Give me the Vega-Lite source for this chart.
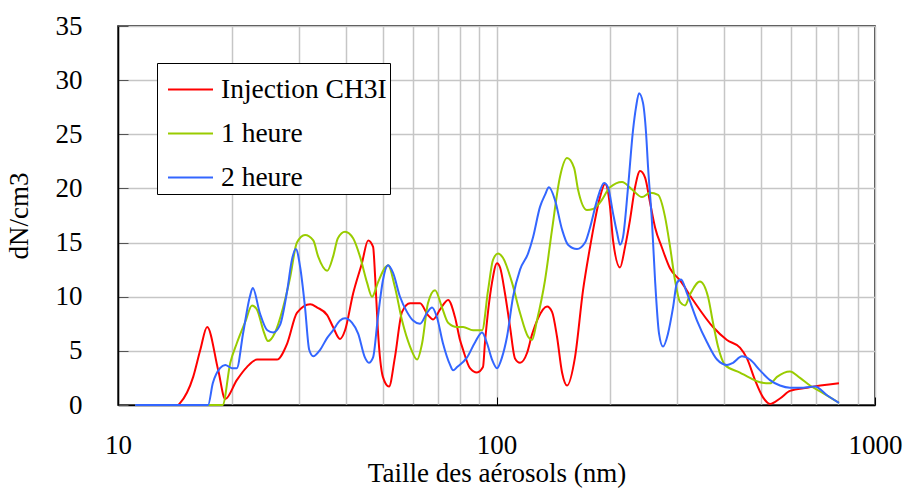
{
 "$schema": "https://vega.github.io/schema/vega-lite/v6.json",
 "width": 757, "height": 379,
 "autosize": {"type": "none"},
 "padding": {"left": 118, "top": 26, "right": 32, "bottom": 97},
 "background": "white",
 "config": {"font": "'Liberation Serif', 'Times New Roman', serif", "view": {"stroke": "black", "strokeWidth": 1.5}},
 "data": {"values": [
  {"s":"Injection CH3I","x":11.1,"y":0},{"s":"Injection CH3I","x":14.4,"y":0},{"s":"Injection CH3I","x":14.6,"y":0.2},{"s":"Injection CH3I","x":15.8,"y":2.6},{"s":"Injection CH3I","x":16.5,"y":5.1},{"s":"Injection CH3I","x":17.2,"y":7.2},{"s":"Injection CH3I","x":18.4,"y":3.2},{"s":"Injection CH3I","x":19.2,"y":0.55},{"s":"Injection CH3I","x":20.6,"y":2.3},{"s":"Injection CH3I","x":21.9,"y":3.5},{"s":"Injection CH3I","x":23.3,"y":4.2},{"s":"Injection CH3I","x":26.3,"y":4.2},{"s":"Injection CH3I","x":28.0,"y":5.7},{"s":"Injection CH3I","x":29.7,"y":8.5},{"s":"Injection CH3I","x":32.2,"y":9.3},{"s":"Injection CH3I","x":33.6,"y":9.0},{"s":"Injection CH3I","x":35.7,"y":8.3},{"s":"Injection CH3I","x":37.0,"y":7.2},{"s":"Injection CH3I","x":38.6,"y":6.1},{"s":"Injection CH3I","x":39.8,"y":6.9},{"s":"Injection CH3I","x":41.8,"y":10.3},{"s":"Injection CH3I","x":44.1,"y":13.1},{"s":"Injection CH3I","x":45.8,"y":15.2},{"s":"Injection CH3I","x":47.2,"y":14.6},{"s":"Injection CH3I","x":47.8,"y":11.8},{"s":"Injection CH3I","x":48.6,"y":6.9},{"s":"Injection CH3I","x":50.1,"y":2.6},{"s":"Injection CH3I","x":52.0,"y":1.7},{"s":"Injection CH3I","x":53.9,"y":4.4},{"s":"Injection CH3I","x":56.3,"y":8.6},{"s":"Injection CH3I","x":59.1,"y":9.4},{"s":"Injection CH3I","x":62.8,"y":9.4},{"s":"Injection CH3I","x":65.9,"y":8.3},{"s":"Injection CH3I","x":68.0,"y":7.9},{"s":"Injection CH3I","x":70.9,"y":8.8},{"s":"Injection CH3I","x":74.5,"y":9.7},{"s":"Injection CH3I","x":77.7,"y":8.1},{"s":"Injection CH3I","x":80.1,"y":6.0},{"s":"Injection CH3I","x":81.6,"y":5.1},{"s":"Injection CH3I","x":85.1,"y":3.4},{"s":"Injection CH3I","x":88.8,"y":3.0},{"s":"Injection CH3I","x":92.1,"y":3.5},{"s":"Injection CH3I","x":93.2,"y":5.7},{"s":"Injection CH3I","x":97.3,"y":11.3},{"s":"Injection CH3I","x":100.3,"y":13.1},{"s":"Injection CH3I","x":102.2,"y":12.7},{"s":"Injection CH3I","x":105.3,"y":10.3},{"s":"Injection CH3I","x":108.6,"y":7.2},{"s":"Injection CH3I","x":111.9,"y":4.3},{"s":"Injection CH3I","x":115.4,"y":3.9},{"s":"Injection CH3I","x":120.4,"y":4.8},{"s":"Injection CH3I","x":124.1,"y":6.5},{"s":"Injection CH3I","x":128.7,"y":8.0},{"s":"Injection CH3I","x":136.0,"y":9.1},{"s":"Injection CH3I","x":140.2,"y":8.6},{"s":"Injection CH3I","x":144.5,"y":6.3},{"s":"Injection CH3I","x":149.0,"y":3.0},{"s":"Injection CH3I","x":153.6,"y":1.8},{"s":"Injection CH3I","x":161.2,"y":4.4},{"s":"Injection CH3I","x":169.3,"y":10.6},{"s":"Injection CH3I","x":176.7,"y":14.6},{"s":"Injection CH3I","x":182.1,"y":17.1},{"s":"Injection CH3I","x":187.7,"y":19.2},{"s":"Injection CH3I","x":193.5,"y":20.4},{"s":"Injection CH3I","x":199.5,"y":18.3},{"s":"Injection CH3I","x":203.2,"y":15.2},{"s":"Injection CH3I","x":212.0,"y":12.7},{"s":"Injection CH3I","x":218.6,"y":14.6},{"s":"Injection CH3I","x":225.3,"y":17.1},{"s":"Injection CH3I","x":232.3,"y":20.1},{"s":"Injection CH3I","x":239.5,"y":21.6},{"s":"Injection CH3I","x":246.9,"y":21.0},{"s":"Injection CH3I","x":254.5,"y":18.7},{"s":"Injection CH3I","x":262.4,"y":16.4},{"s":"Injection CH3I","x":273.8,"y":14.5},{"s":"Injection CH3I","x":287.5,"y":12.6},{"s":"Injection CH3I","x":305.5,"y":11.5},{"s":"Injection CH3I","x":330.5,"y":9.7},{"s":"Injection CH3I","x":373.3,"y":7.2},{"s":"Injection CH3I","x":406.3,"y":6.0},{"s":"Injection CH3I","x":439.8,"y":5.3},{"s":"Injection CH3I","x":459.0,"y":4.3},{"s":"Injection CH3I","x":481.9,"y":2.3},{"s":"Injection CH3I","x":506.0,"y":0.7},{"s":"Injection CH3I","x":528.0,"y":0.1},{"s":"Injection CH3I","x":561.0,"y":0.6},{"s":"Injection CH3I","x":596.2,"y":1.3},{"s":"Injection CH3I","x":661.3,"y":1.6},{"s":"Injection CH3I","x":803.3,"y":2.0},
  {"s":"1 heure","x":11.1,"y":0},{"s":"1 heure","x":18.9,"y":0},{"s":"1 heure","x":19.8,"y":3.9},{"s":"1 heure","x":20.6,"y":5.7},{"s":"1 heure","x":21.7,"y":7.7},{"s":"1 heure","x":22.6,"y":9.2},{"s":"1 heure","x":23.3,"y":8.8},{"s":"1 heure","x":24.2,"y":6.9},{"s":"1 heure","x":24.9,"y":5.9},{"s":"1 heure","x":26.0,"y":6.7},{"s":"1 heure","x":27.3,"y":9.0},{"s":"1 heure","x":28.5,"y":11.8},{"s":"1 heure","x":29.7,"y":15.0},{"s":"1 heure","x":31.2,"y":15.7},{"s":"1 heure","x":32.8,"y":15.2},{"s":"1 heure","x":33.8,"y":13.7},{"s":"1 heure","x":35.7,"y":12.4},{"s":"1 heure","x":37.0,"y":13.7},{"s":"1 heure","x":38.1,"y":15.4},{"s":"1 heure","x":39.8,"y":16.0},{"s":"1 heure","x":41.8,"y":15.4},{"s":"1 heure","x":43.6,"y":13.7},{"s":"1 heure","x":45.5,"y":11.3},{"s":"1 heure","x":46.9,"y":10.0},{"s":"1 heure","x":48.6,"y":11.3},{"s":"1 heure","x":50.8,"y":12.7},{"s":"1 heure","x":51.7,"y":12.9},{"s":"1 heure","x":53.9,"y":10.9},{"s":"1 heure","x":56.3,"y":7.8},{"s":"1 heure","x":59.1,"y":5.4},{"s":"1 heure","x":61.7,"y":4.2},{"s":"1 heure","x":63.6,"y":5.7},{"s":"1 heure","x":65.9,"y":9.4},{"s":"1 heure","x":68.8,"y":10.6},{"s":"1 heure","x":71.8,"y":9.0},{"s":"1 heure","x":74.5,"y":7.6},{"s":"1 heure","x":78.7,"y":7.2},{"s":"1 heure","x":81.6,"y":7.2},{"s":"1 heure","x":86.7,"y":6.9},{"s":"1 heure","x":91.6,"y":6.9},{"s":"1 heure","x":95.0,"y":10.6},{"s":"1 heure","x":97.9,"y":13.4},{"s":"1 heure","x":100.9,"y":14.0},{"s":"1 heure","x":104.0,"y":13.6},{"s":"1 heure","x":109.9,"y":11.3},{"s":"1 heure","x":115.4,"y":8.5},{"s":"1 heure","x":121.2,"y":6.3},{"s":"1 heure","x":124.1,"y":6.0},{"s":"1 heure","x":127.9,"y":7.8},{"s":"1 heure","x":134.3,"y":11.5},{"s":"1 heure","x":140.2,"y":16.2},{"s":"1 heure","x":147.2,"y":21.1},{"s":"1 heure","x":153.6,"y":22.8},{"s":"1 heure","x":160.3,"y":21.9},{"s":"1 heure","x":164.2,"y":19.9},{"s":"1 heure","x":173.4,"y":18.0},{"s":"1 heure","x":179.9,"y":18.1},{"s":"1 heure","x":187.7,"y":18.7},{"s":"1 heure","x":199.5,"y":20.1},{"s":"1 heure","x":214.6,"y":20.6},{"s":"1 heure","x":228.1,"y":19.9},{"s":"1 heure","x":242.4,"y":19.2},{"s":"1 heure","x":254.5,"y":19.6},{"s":"1 heure","x":267.2,"y":19.4},{"s":"1 heure","x":278.7,"y":17.4},{"s":"1 heure","x":287.5,"y":14.6},{"s":"1 heure","x":296.3,"y":11.5},{"s":"1 heure","x":305.5,"y":9.5},{"s":"1 heure","x":314.8,"y":9.2},{"s":"1 heure","x":324.5,"y":10.2},{"s":"1 heure","x":344.8,"y":11.4},{"s":"1 heure","x":362.1,"y":10.0},{"s":"1 heure","x":373.3,"y":7.6},{"s":"1 heure","x":384.8,"y":5.4},{"s":"1 heure","x":401.5,"y":3.7},{"s":"1 heure","x":439.8,"y":3.0},{"s":"1 heure","x":467.5,"y":2.5},{"s":"1 heure","x":496.8,"y":2.1},{"s":"1 heure","x":528.0,"y":2.0},{"s":"1 heure","x":550.9,"y":2.6},{"s":"1 heure","x":596.2,"y":3.1},{"s":"1 heure","x":633.7,"y":2.5},{"s":"1 heure","x":673.4,"y":1.8},{"s":"1 heure","x":728.8,"y":1.1},{"s":"1 heure","x":803.3,"y":0.2},
  {"s":"2 heure","x":11.1,"y":0},{"s":"2 heure","x":17.3,"y":0},{"s":"2 heure","x":17.8,"y":2.0},{"s":"2 heure","x":18.6,"y":3.4},{"s":"2 heure","x":19.2,"y":3.7},{"s":"2 heure","x":20.0,"y":3.4},{"s":"2 heure","x":20.6,"y":3.4},{"s":"2 heure","x":21.4,"y":6.6},{"s":"2 heure","x":22.3,"y":10.0},{"s":"2 heure","x":22.7,"y":10.8},{"s":"2 heure","x":23.7,"y":8.5},{"s":"2 heure","x":24.8,"y":6.9},{"s":"2 heure","x":25.7,"y":6.7},{"s":"2 heure","x":26.8,"y":7.4},{"s":"2 heure","x":28.0,"y":10.6},{"s":"2 heure","x":28.8,"y":13.4},{"s":"2 heure","x":29.5,"y":14.4},{"s":"2 heure","x":30.3,"y":12.7},{"s":"2 heure","x":31.2,"y":9.0},{"s":"2 heure","x":32.0,"y":5.1},{"s":"2 heure","x":32.8,"y":4.5},{"s":"2 heure","x":34.2,"y":5.1},{"s":"2 heure","x":35.7,"y":6.2},{"s":"2 heure","x":37.0,"y":6.9},{"s":"2 heure","x":38.6,"y":7.8},{"s":"2 heure","x":39.8,"y":8.0},{"s":"2 heure","x":41.5,"y":7.6},{"s":"2 heure","x":43.1,"y":6.6},{"s":"2 heure","x":44.9,"y":4.4},{"s":"2 heure","x":46.0,"y":3.9},{"s":"2 heure","x":47.2,"y":4.4},{"s":"2 heure","x":48.6,"y":8.1},{"s":"2 heure","x":50.1,"y":11.5},{"s":"2 heure","x":51.7,"y":12.9},{"s":"2 heure","x":53.3,"y":12.2},{"s":"2 heure","x":55.6,"y":10.0},{"s":"2 heure","x":58.0,"y":8.6},{"s":"2 heure","x":60.2,"y":7.8},{"s":"2 heure","x":62.8,"y":7.5},{"s":"2 heure","x":65.5,"y":8.5},{"s":"2 heure","x":67.6,"y":9.0},{"s":"2 heure","x":69.6,"y":8.1},{"s":"2 heure","x":72.2,"y":5.7},{"s":"2 heure","x":75.4,"y":3.7},{"s":"2 heure","x":76.8,"y":3.2},{"s":"2 heure","x":78.7,"y":3.5},{"s":"2 heure","x":83.6,"y":4.4},{"s":"2 heure","x":87.8,"y":5.8},{"s":"2 heure","x":91.6,"y":6.7},{"s":"2 heure","x":94.4,"y":5.7},{"s":"2 heure","x":97.3,"y":4.2},{"s":"2 heure","x":100.3,"y":3.4},{"s":"2 heure","x":103.4,"y":4.4},{"s":"2 heure","x":106.6,"y":6.3},{"s":"2 heure","x":110.6,"y":10.0},{"s":"2 heure","x":115.4,"y":12.5},{"s":"2 heure","x":121.2,"y":14.0},{"s":"2 heure","x":124.9,"y":15.5},{"s":"2 heure","x":130.3,"y":18.3},{"s":"2 heure","x":134.3,"y":19.4},{"s":"2 heure","x":137.6,"y":20.1},{"s":"2 heure","x":142.8,"y":18.9},{"s":"2 heure","x":149.0,"y":16.2},{"s":"2 heure","x":154.5,"y":14.8},{"s":"2 heure","x":163.2,"y":14.4},{"s":"2 heure","x":171.4,"y":15.0},{"s":"2 heure","x":176.7,"y":16.4},{"s":"2 heure","x":184.3,"y":18.9},{"s":"2 heure","x":192.4,"y":20.5},{"s":"2 heure","x":197.1,"y":20.1},{"s":"2 heure","x":203.2,"y":17.7},{"s":"2 heure","x":208.2,"y":15.9},{"s":"2 heure","x":212.0,"y":14.8},{"s":"2 heure","x":215.9,"y":15.5},{"s":"2 heure","x":222.6,"y":20.1},{"s":"2 heure","x":229.5,"y":25.4},{"s":"2 heure","x":233.7,"y":27.5},{"s":"2 heure","x":238.0,"y":28.8},{"s":"2 heure","x":243.8,"y":27.9},{"s":"2 heure","x":248.4,"y":25.1},{"s":"2 heure","x":251.4,"y":22.0},{"s":"2 heure","x":257.6,"y":16.8},{"s":"2 heure","x":262.4,"y":11.5},{"s":"2 heure","x":268.8,"y":6.6},{"s":"2 heure","x":275.4,"y":5.4},{"s":"2 heure","x":283.9,"y":6.6},{"s":"2 heure","x":292.7,"y":9.0},{"s":"2 heure","x":299.9,"y":11.3},{"s":"2 heure","x":307.3,"y":11.6},{"s":"2 heure","x":318.7,"y":10.3},{"s":"2 heure","x":338.6,"y":7.8},{"s":"2 heure","x":359.9,"y":5.8},{"s":"2 heure","x":382.5,"y":4.2},{"s":"2 heure","x":406.3,"y":3.7},{"s":"2 heure","x":421.5,"y":3.9},{"s":"2 heure","x":445.2,"y":4.5},{"s":"2 heure","x":467.5,"y":4.2},{"s":"2 heure","x":496.8,"y":3.2},{"s":"2 heure","x":528.0,"y":2.3},{"s":"2 heure","x":561.0,"y":1.8},{"s":"2 heure","x":596.2,"y":1.6},{"s":"2 heure","x":633.7,"y":1.6},{"s":"2 heure","x":694.2,"y":1.7},{"s":"2 heure","x":746.8,"y":0.9},{"s":"2 heure","x":803.3,"y":0.2}
 ]},
 "mark": {"type": "line", "strokeWidth": 2, "interpolate": "monotone"},
 "encoding": {
  "x": {"field": "x", "type": "quantitative",
   "scale": {"type": "log", "domain": [10, 1000], "nice": false},
   "axis": {"title": "Taille des aérosols (nm)", "values": [10,20,30,40,50,60,70,80,90,100,200,300,400,500,600,700,800,900,1000],
    "labelExpr": "datum.value == 10 || datum.value == 100 || datum.value == 1000 ? format(datum.value, 'd') : ''",
    "labelOverlap": false, "labelFlush": false, "labelFont": "'Liberation Serif', 'Times New Roman', serif", "labelFontSize": 27, "labelColor": "black", "labelPadding": 35,
    "tickSize": -8, "tickColor": {"condition": {"test": "datum.value == 10 || datum.value == 100 || datum.value == 1000", "value": "black"}, "value": "transparent"},
    "grid": true, "gridColor": "#c6c6c6", "gridWidth": 1.5, "domainColor": "black", "domainWidth": 1.5,
    "titleFont": "'Liberation Serif', 'Times New Roman', serif", "titleFontSize": 27, "titleFontWeight": "normal", "titleColor": "black", "titlePadding": 2}},
  "y": {"field": "y", "type": "quantitative",
   "scale": {"domain": [0, 35], "nice": false},
   "axis": {"title": "dN/cm3", "values": [0,5,10,15,20,25,30,35], "labelFont": "'Liberation Serif', 'Times New Roman', serif", "labelFontSize": 27, "labelColor": "black", "labelPadding": 46,
    "tickSize": -10, "tickColor": "#555555", "grid": true, "gridColor": "#c6c6c6", "gridWidth": 1.5, "domainColor": "black", "domainWidth": 1.5,
    "titleFont": "'Liberation Serif', 'Times New Roman', serif", "titleFontSize": 27, "titleFontWeight": "normal", "titleColor": "black", "titlePadding": 22}},
  "color": {"field": "s", "type": "nominal",
   "scale": {"domain": ["Injection CH3I", "1 heure", "2 heure"], "range": ["#ff0000", "#99cc00", "#3366ff"]},
   "legend": {"title": null, "orient": "none", "legendX": 39, "legendY": 37, "symbolType": "stroke", "symbolSize": 2025, "symbolStrokeWidth": 2, "symbolOffset": 7,
    "labelFont": "'Liberation Serif', 'Times New Roman', serif", "labelFontSize": 27.5, "labelColor": "black", "labelOffset": 7, "rowPadding": 7,
    "strokeColor": "black", "fillColor": "white", "padding": 3, "labelLimit": 400}}
 }
}
